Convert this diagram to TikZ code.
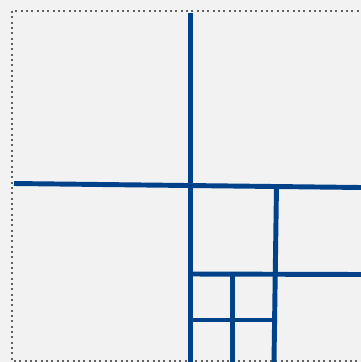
\documentclass[tikz,border=0pt]{standalone}
\usepackage{tikz}

\definecolor{cellblue}{HTML}{00428A}
\definecolor{paper}{HTML}{F2F2F2}

\begin{document}
\begin{tikzpicture}[
        x=0.75pt, y=-0.75pt,
        split/.style={draw=cellblue, line width=3.7pt},
        frame/.style={draw=gray!75!black, line width=1.6pt, dash pattern=on 1.6pt off 2.4pt}
    ]
      \useasboundingbox[fill=paper] (0,0) rectangle (361,362);
      \clip (0,0) rectangle (361,362);

      % outer frame
      \draw[frame] (12,11) rectangle (366,361);

      % corners of the cells
      \coordinate (top)   at (190.5,13);
      \coordinate (left)  at (14,183.5);
      \coordinate (right) at (361,187.5);
      \coordinate (c1)    at (276.5,186);
      \coordinate (m1)    at (190,274);
      \coordinate (m2)    at (361,274.5);
      \coordinate (q1)    at (232.5,274);
      \coordinate (n1)    at (190,320);
      \coordinate (n2)    at (275,320);

      \draw[split] (top) -- (190.5,362);
      \draw[split] (left) -- (right);
      \draw[split] (c1) -- (274,362);
      \draw[split] (m1) -- (m2);
      \draw[split] (q1) -- (232.5,362);
      \draw[split] (n1) -- (n2);
    \end{tikzpicture}
\end{document}
